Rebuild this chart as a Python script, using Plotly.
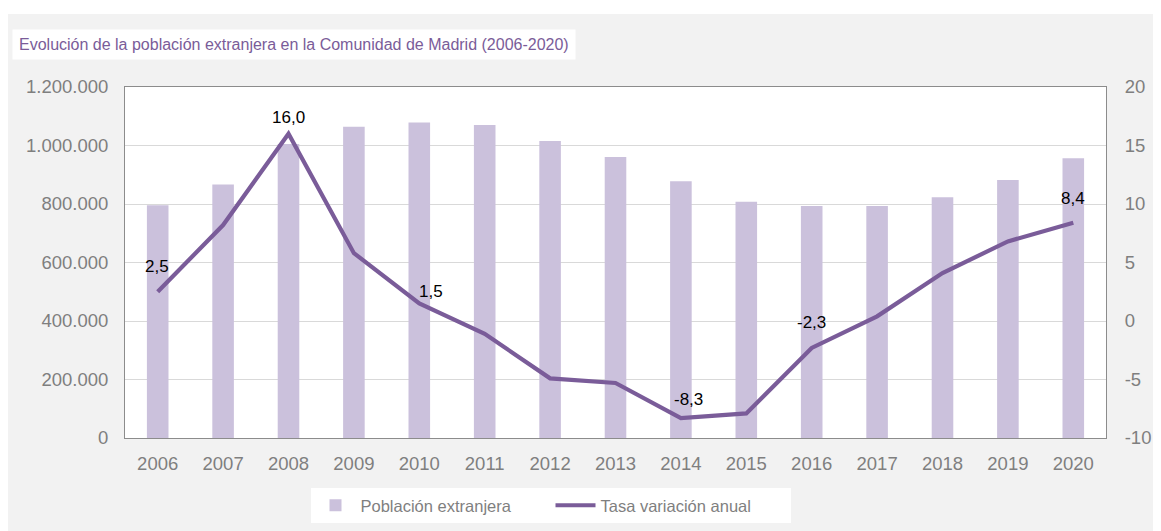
import plotly.graph_objects as go

years = ["2006", "2007", "2008", "2009", "2010", "2011", "2012", "2013",
         "2014", "2015", "2016", "2017", "2018", "2019", "2020"]
poblacion = [796000, 867000, 1005000, 1064000, 1079000, 1070000, 1015000, 961000,
             878000, 808000, 793000, 793000, 823000, 882000, 956000]
tasa = [2.5, 8.2, 16.0, 5.8, 1.5, -1.1, -4.9, -5.3, -8.3, -7.9, -2.3, 0.4, 4.1, 6.8, 8.4]
label_years = ["2006", "2008", "2010", "2014", "2016", "2020"]
left_ticks = [0, 200000, 400000, 600000, 800000, 1000000, 1200000]
left_ticktext = ["0", "200.000", "400.000", "600.000", "800.000", "1.000.000", "1.200.000"]
right_ticks = [-10, -5, 0, 5, 10, 15, 20]
right_ticktext = ["-10", "-5", "0", "5", "10", "15", "20"]

# label placement style (pixel shifts relative to the point)
label_shift = {"2006": (-1, 25), "2008": (0, 16), "2010": (12, 12),
               "2014": (8, 19), "2016": (0, 25), "2020": (0, 24)}

# page offset: the browser body margin places the figure at (8, 8)
OFF = 8
W, H = 1161 - OFF, 531 - OFF
L, R, T, B = 125, 1106, 87, 438  # plot area in screen pixels
pw, ph = R - L, B - T

def px(x):
    return (x - L) / pw

def py(y):
    return (B - y) / ph

fig = go.Figure()
fig.add_trace(go.Bar(
    x=years, y=poblacion, name="Población extranjera",
    marker=dict(color="#cbc1dc", line=dict(width=0)), width=0.33, yaxis="y",
))
fig.add_trace(go.Scatter(
    x=years, y=tasa, name="Tasa variación anual", mode="lines",
    line=dict(color="#7a5c99", width=4.2), yaxis="y2", cliponaxis=False,
))

annotations = []
for i, (yr, v) in enumerate(zip(years, tasa)):
    if yr in label_years:
        dx, dy = label_shift[yr]
        annotations.append(dict(
            x=i, y=v, xref="x", yref="y2", text=f"{v:.1f}".replace(".", ","),
            showarrow=False, xshift=dx, yshift=dy, xanchor="center", yanchor="middle",
            font=dict(color="#000000", size=17, family="Liberation Sans, Arial"),
        ))

annotations.append(dict(
    text="Evolución de la población extranjera en la Comunidad de Madrid (2006-2020)",
    xref="paper", yref="paper", x=px(12), y=py(45), xanchor="left", yanchor="middle",
    showarrow=False, bgcolor="white", borderpad=6,
    font=dict(color="#7a5c99", size=16, family="Liberation Sans, Arial"),
))

axis_font = dict(color="#7f7f7f", size=18.5, family="Liberation Sans, Arial")
fig.update_layout(
    width=W, height=H,
    margin=dict(l=L - OFF, r=(W + OFF) - R, t=T - OFF, b=(H + OFF) - B, pad=0,
                autoexpand=False),
    paper_bgcolor="white", plot_bgcolor="white",
    showlegend=True,
    legend=dict(orientation="h", x=px(550.5), xanchor="center", y=py(488), yanchor="top",
                bgcolor="white", font=dict(color="#7f7f7f", size=16.5, family="Liberation Sans, Arial"),
                traceorder="normal", itemwidth=40, entrywidth=185),
    xaxis=dict(type="category", range=[-0.5, 14.5], tickfont=axis_font, showgrid=False,
               showline=True, linecolor="#8c8c8c", linewidth=1, mirror=True, ticks="",
               ticklabelstandoff=9),
    yaxis=dict(range=[0, 1200000], tickvals=left_ticks, ticktext=left_ticktext,
               tickfont=axis_font, showgrid=True, gridcolor="#d9d9d9", gridwidth=1,
               showline=True, linecolor="#8c8c8c", linewidth=1, zeroline=False,
               ticklabelstandoff=12),
    yaxis2=dict(range=[-10, 20], tickvals=right_ticks, ticktext=right_ticktext,
                overlaying="y", side="right",
                tickfont=axis_font, showgrid=False, showline=True, linecolor="#8c8c8c",
                linewidth=1, zeroline=False, ticklabelstandoff=14),
    shapes=[
        dict(type="rect", xref="paper", yref="paper", x0=px(8), x1=px(1170), y0=py(540), y1=py(14),
             fillcolor="#f2f2f2", line=dict(width=0), layer="below"),
        dict(type="rect", xref="paper", yref="paper", x0=0, x1=1, y0=0, y1=1,
             fillcolor="white", line=dict(width=0), layer="below"),
    ],
    annotations=annotations,
)

fig.write_html("out.html")
